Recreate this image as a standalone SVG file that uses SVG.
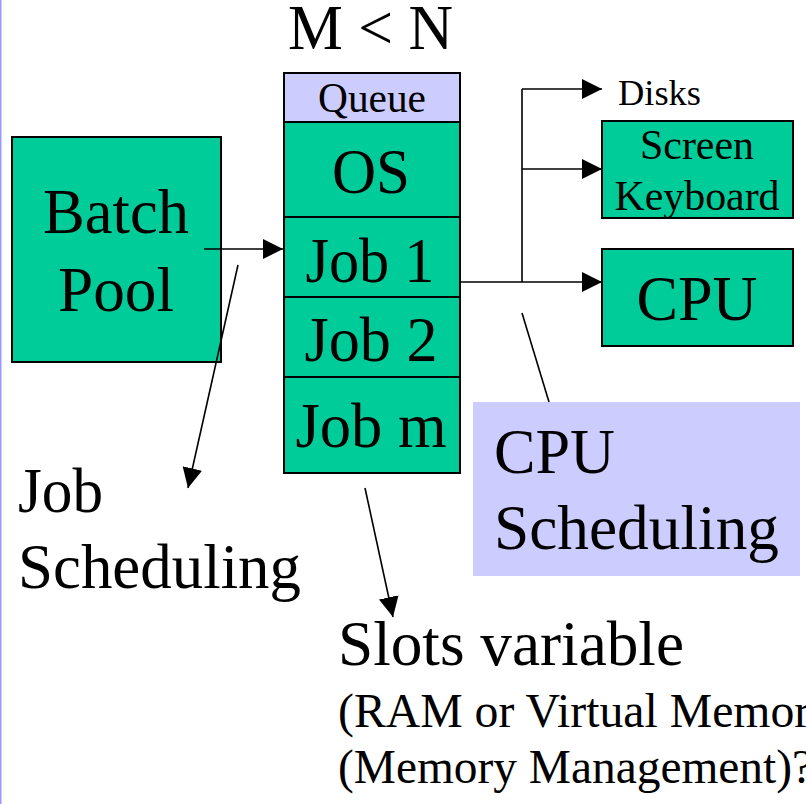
<svg xmlns="http://www.w3.org/2000/svg" width="806" height="804" viewBox="0 0 806 804">
<style>
text{font-family:"Liberation Serif","Times New Roman",serif;fill:#000}
.g{fill:#00CC99;stroke:#000;stroke-width:2}
.q{fill:#CCCCFF;stroke:#000;stroke-width:2}
.c{fill:none;stroke:#000;stroke-width:1.6}
.big{font-size:64px}
.mid{text-anchor:middle}
</style>
<defs>
<marker id="ah" viewBox="0 0 20 20" refX="20" refY="10" markerWidth="20" markerHeight="20" markerUnits="userSpaceOnUse" orient="auto">
<path d="M0,0 L20,10 L0,20 Z" fill="#000"/>
</marker>
</defs>
<rect x="0" y="0" width="806" height="804" fill="#fff"/>
<rect x="0" y="0" width="1.5" height="804" fill="#9999FF"/>

<text class="big" x="288" y="49" textLength="165" lengthAdjust="spacingAndGlyphs">M &lt; N</text>

<g id="batch-pool">
<rect class="g" x="12" y="137" width="209" height="225"/>
<text class="big mid" x="116" y="233" textLength="146" lengthAdjust="spacingAndGlyphs">Batch</text>
<text class="big mid" x="116" y="311" textLength="116" lengthAdjust="spacingAndGlyphs">Pool</text>
</g>

<g id="queue">
<rect class="q" x="284" y="73" width="176" height="49"/>
<text class="mid" x="372" y="112" font-size="42" textLength="108" lengthAdjust="spacingAndGlyphs">Queue</text>
</g>
<g id="os">
<rect class="g" x="284" y="122" width="176" height="95"/>
<text class="big mid" x="371" y="193" textLength="78" lengthAdjust="spacingAndGlyphs">OS</text>
</g>
<g id="job1">
<rect class="g" x="284" y="217" width="176" height="80"/>
<text class="big mid" x="370" y="282" textLength="129" lengthAdjust="spacingAndGlyphs">Job 1</text>
</g>
<g id="job2">
<rect class="g" x="284" y="297" width="176" height="80"/>
<text class="big mid" x="371" y="361" textLength="133" lengthAdjust="spacingAndGlyphs">Job 2</text>
</g>
<g id="jobm">
<rect class="g" x="284" y="377" width="176" height="96"/>
<text class="big mid" x="371" y="447" textLength="151" lengthAdjust="spacingAndGlyphs">Job m</text>
</g>

<g id="disks">
<text x="618" y="105" font-size="35" textLength="83" lengthAdjust="spacingAndGlyphs">Disks</text>
</g>
<g id="screen-keyboard">
<rect class="g" x="602" y="121" width="191" height="97"/>
<text class="mid" x="697" y="159" font-size="42" textLength="114" lengthAdjust="spacingAndGlyphs">Screen</text>
<text class="mid" x="697" y="210" font-size="42" textLength="165" lengthAdjust="spacingAndGlyphs">Keyboard</text>
</g>
<g id="cpu">
<rect class="g" x="602" y="249" width="191" height="97"/>
<text class="big mid" x="697" y="320" textLength="121" lengthAdjust="spacingAndGlyphs">CPU</text>
</g>

<g id="cpu-scheduling">
<rect x="473" y="402" width="327" height="174" fill="#CCCCFF"/>
<text class="big" x="494" y="473" textLength="121" lengthAdjust="spacingAndGlyphs">CPU</text>
<text class="big" x="494" y="549" textLength="285" lengthAdjust="spacingAndGlyphs">Scheduling</text>
</g>

<g id="job-scheduling">
<text class="big" x="18" y="512" textLength="85" lengthAdjust="spacingAndGlyphs">Job</text>
<text class="big" x="18" y="588" textLength="283" lengthAdjust="spacingAndGlyphs">Scheduling</text>
</g>

<g id="slots-variable">
<text class="big" x="338" y="665" textLength="346" lengthAdjust="spacingAndGlyphs">Slots variable</text>
<text x="338" y="727" font-size="48" textLength="512" lengthAdjust="spacingAndGlyphs">(RAM or Virtual Memory)</text>
<text x="338" y="783" font-size="48" textLength="475" lengthAdjust="spacingAndGlyphs">(Memory Management)?</text>
</g>

<g id="connectors">
<line class="c" x1="204" y1="249" x2="283" y2="249" marker-end="url(#ah)"/>
<line class="c" x1="460" y1="282" x2="602" y2="282" marker-end="url(#ah)"/>
<line class="c" x1="522" y1="89" x2="522" y2="282"/>
<line class="c" x1="522" y1="89" x2="602" y2="89" marker-end="url(#ah)"/>
<line class="c" x1="522" y1="169" x2="602" y2="169" marker-end="url(#ah)"/>
<line class="c" x1="522" y1="313" x2="549" y2="402"/>
<line class="c" x1="238" y1="265" x2="188" y2="488" marker-end="url(#ah)"/>
<line class="c" x1="365" y1="488" x2="393" y2="617" marker-end="url(#ah)"/>
</g>
</svg>
